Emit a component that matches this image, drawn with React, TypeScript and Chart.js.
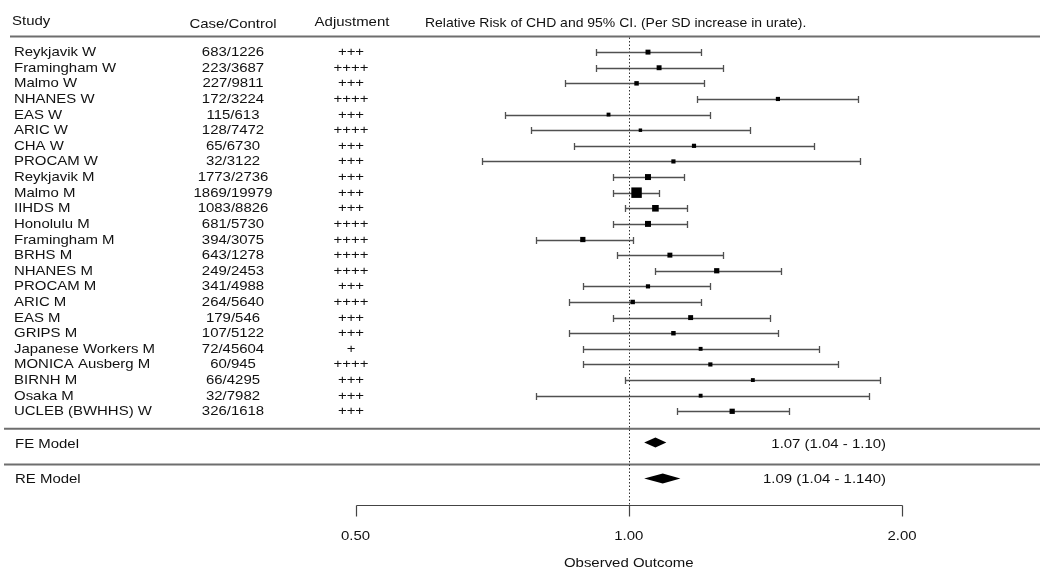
import React, { useEffect, useRef } from "react";
import { Chart, registerables } from "chart.js";

Chart.register(...registerables);

const headers = ["Study", "Case/Control", "Adjustment", "Relative Risk of CHD and 95% CI. (Per SD increase in urate)."];

const studies = [
  "Reykjavik W", "Framingham W", "Malmo W", "NHANES W", "EAS W", "ARIC W", "CHA W", "PROCAM W",
  "Reykjavik M", "Malmo M", "IIHDS M", "Honolulu M", "Framingham M", "BRHS M", "NHANES M", "PROCAM M",
  "ARIC M", "EAS M", "GRIPS M", "Japanese Workers M", "MONICA Ausberg M", "BIRNH M", "Osaka M", "UCLEB (BWHHS) W",
];

const caseControl = [
  "683/1226", "223/3687", "227/9811", "172/3224", "115/613", "128/7472", "65/6730", "32/3122",
  "1773/2736", "1869/19979", "1083/8826", "681/5730", "394/3075", "643/1278", "249/2453", "341/4988",
  "264/5640", "179/546", "107/5122", "72/45604", "60/945", "66/4295", "32/7982", "326/1618",
];

const adjustment = [
  "+++", "++++", "+++", "++++", "+++", "++++", "+++", "+++",
  "+++", "+++", "+++", "++++", "++++", "++++", "++++", "+++",
  "++++", "+++", "+++", "+", "++++", "+++", "+++", "+++",
];

const estimates = [
  1.05, 1.08, 1.02, 1.46, 0.95, 1.03, 1.18, 1.12,
  1.05, 1.02, 1.07, 1.05, 0.89, 1.11, 1.25, 1.05,
  1.01, 1.17, 1.12, 1.20, 1.23, 1.37, 1.20, 1.30,
];

const lowerCI = [
  0.92, 0.92, 0.85, 1.19, 0.73, 0.78, 0.87, 0.69,
  0.96, 0.96, 0.99, 0.96, 0.79, 0.97, 1.07, 0.89,
  0.86, 0.96, 0.86, 0.89, 0.89, 0.99, 0.79, 1.13,
];

const upperCI = [
  1.20, 1.27, 1.21, 1.79, 1.23, 1.36, 1.60, 1.80,
  1.15, 1.08, 1.16, 1.16, 1.01, 1.27, 1.47, 1.23,
  1.20, 1.43, 1.46, 1.62, 1.70, 1.89, 1.84, 1.50,
];

// study weights (%)
const weights = [
  3.9, 3.9, 3.2, 2.8, 2.4, 1.9, 2.8, 2.8,
  5.7, 17.6, 7.0, 5.7, 4.4, 3.9, 4.4, 2.8,
  3.2, 3.9, 3.2, 2.4, 2.8, 2.4, 2.4, 4.4,
];

const summaryLabels = ["FE Model", "RE Model"];
const summaryEstimates = [1.07, 1.09];
const summaryLower = [1.04, 1.04];
const summaryUpper = [1.10, 1.14];
const summaryText = ["1.07 (1.04 - 1.10)", "1.09 (1.04 - 1.140)"];

const tickValues = [0.5, 1, 2];
const tickLabels = ["0.50", "1.00", "2.00"];
const xTitle = "Observed Outcome";

const FONT = '13px "Liberation Sans", Arial, sans-serif';
const SX = 1.15;
const TEXT = "#111";

function drawText(ctx: CanvasRenderingContext2D, s: string, x: number, y: number, align: CanvasTextAlign, sx: number = SX) {
  ctx.save();
  ctx.translate(x, y);
  ctx.scale(sx, 1);
  ctx.font = FONT;
  ctx.fillStyle = TEXT;
  ctx.textAlign = align;
  ctx.textBaseline = "alphabetic";
  ctx.fillText(s, 0, 0);
  ctx.restore();
}

const boxSide = (w: number) => Math.sqrt(w) * 2.5;

const forestPlugin = {
  id: "forest",
  beforeDatasetsDraw(chart: any) {
    const ctx: CanvasRenderingContext2D = chart.ctx;
    const xs = chart.scales.x;
    const ys = chart.scales.y;
    const area = chart.chartArea;
    const W = chart.width;
    ctx.save();

    // header texts
    drawText(ctx, headers[0], 12, 25.3, "left");
    drawText(ctx, headers[1], 233, 28, "center");
    drawText(ctx, headers[2], 352, 26.3, "center");
    drawText(ctx, headers[3], 425, 26.5, "left", 1.075);

    // separator lines
    ctx.strokeStyle = "#6e6e6e";
    ctx.lineWidth = 2;
    const hl = (y: number, x0: number) => {
      ctx.beginPath();
      ctx.moveTo(x0, y);
      ctx.lineTo(W - 2, y);
      ctx.stroke();
    };
    hl(area.top, 10);
    hl(ys.getPixelForValue(25.12), 4);
    hl(ys.getPixelForValue(27.4), 4);

    // reference line at 1
    const x1 = Math.round(xs.getPixelForValue(1)) + 0.5;
    ctx.strokeStyle = "#333";
    ctx.lineWidth = 1;
    ctx.setLineDash([1.5, 2]);
    ctx.beginPath();
    ctx.moveTo(x1, area.top + 1);
    ctx.lineTo(x1, area.bottom);
    ctx.stroke();
    ctx.setLineDash([]);

    // error bars and row texts
    ctx.strokeStyle = "#505050";
    ctx.lineWidth = 1.3;
    for (let i = 0; i < studies.length; i++) {
      const y = Math.round(ys.getPixelForValue(i + 1)) + 0.5;
      const xl = Math.round(xs.getPixelForValue(lowerCI[i])) + 0.5;
      const xh = Math.round(xs.getPixelForValue(upperCI[i])) + 0.5;
      ctx.beginPath();
      ctx.moveTo(xl, y);
      ctx.lineTo(xh, y);
      ctx.moveTo(xl, y - 3.5);
      ctx.lineTo(xl, y + 3.5);
      ctx.moveTo(xh, y - 3.5);
      ctx.lineTo(xh, y + 3.5);
      ctx.stroke();

      drawText(ctx, studies[i], 14, y + 3.6, "left");
      drawText(ctx, caseControl[i], 233, y + 3.6, "center");
      drawText(ctx, adjustment[i], 351, y + 3.6, "center");
    }

    // summary diamonds
    const summaryRows = [26, 28.3];
    for (let k = 0; k < summaryLabels.length; k++) {
      const y = ys.getPixelForValue(summaryRows[k]);
      const xl = xs.getPixelForValue(summaryLower[k]);
      const xm = xs.getPixelForValue(summaryEstimates[k]);
      const xh = xs.getPixelForValue(summaryUpper[k]);
      ctx.fillStyle = "#000";
      ctx.beginPath();
      ctx.moveTo(xl, y);
      ctx.lineTo(xm, y - 5);
      ctx.lineTo(xh, y);
      ctx.lineTo(xm, y + 5);
      ctx.closePath();
      ctx.fill();
      drawText(ctx, summaryLabels[k], 15, y + 5, "left");
      drawText(ctx, summaryText[k], 886, y + 5, "right");
    }

    // x axis
    const ay = Math.round(area.bottom) + 0.5;
    const xa = xs.getPixelForValue(tickValues[0]);
    const xb = xs.getPixelForValue(tickValues[tickValues.length - 1]);
    ctx.strokeStyle = "#444";
    ctx.lineWidth = 1.2;
    ctx.beginPath();
    ctx.moveTo(Math.round(xa) + 0.5, ay);
    ctx.lineTo(Math.round(xb) + 0.5, ay);
    for (const t of tickValues) {
      const tx = Math.round(xs.getPixelForValue(t)) + 0.5;
      ctx.moveTo(tx, ay);
      ctx.lineTo(tx, ay + 11);
    }
    ctx.stroke();
    tickValues.forEach((t, j) => {
      drawText(ctx, tickLabels[j], xs.getPixelForValue(t), 540, "center");
    });
    drawText(ctx, xTitle, xs.getPixelForValue(1), 566.5, "center");

    ctx.restore();
  },
};

export default function App() {
  const ref = useRef<HTMLCanvasElement | null>(null);
  useEffect(() => {
    if (!ref.current) return;
    const radii = weights.map((w) => boxSide(w) / Math.SQRT2);
    const chart = new Chart(ref.current, {
      type: "scatter",
      data: {
        datasets: [
          {
            data: estimates.map((e, i) => ({ x: e, y: i + 1 })),
            pointStyle: "rect",
            pointRadius: radii,
            pointHoverRadius: radii,
            pointBackgroundColor: "#000",
            pointBorderWidth: 0,
            clip: false as any,
          },
        ],
      },
      options: {
        responsive: false,
        animation: false,
        events: [],
        layout: { padding: { left: 355.5, right: 140, top: 36.5, bottom: 69 } },
        scales: {
          x: { type: "logarithmic", min: 0.5, max: 2, display: false },
          y: { type: "linear", min: 0, max: 30, reverse: true, display: false },
        },
        plugins: { legend: { display: false }, tooltip: { enabled: false } },
      },
      plugins: [forestPlugin],
    });
    return () => chart.destroy();
  }, []);
  return (
    <div style={{ position: "fixed", left: 0, top: 0, width: 1042, height: 574, background: "#fff" }}>
      <canvas ref={ref} width={1042} height={574} style={{ display: "block" }} />
    </div>
  );
}
